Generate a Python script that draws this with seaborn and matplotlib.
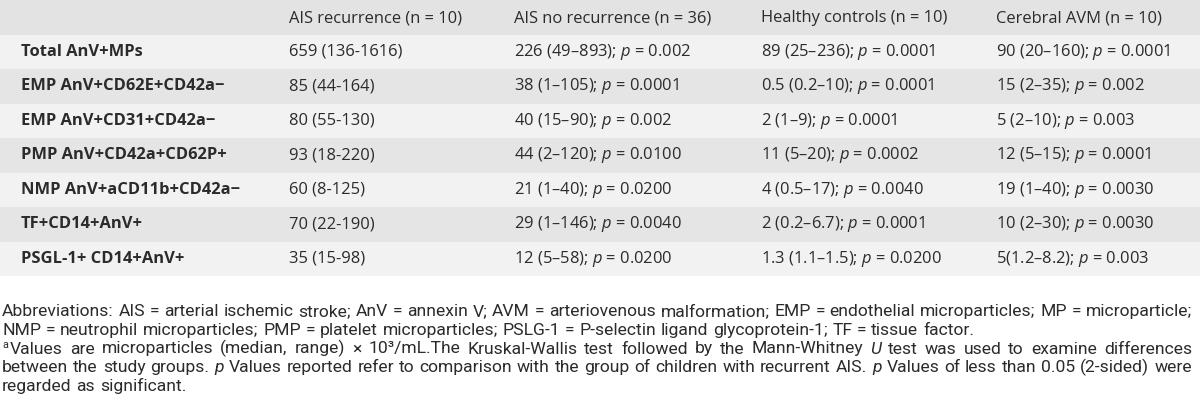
import numpy as np
import pandas as pd
import seaborn as sns
import matplotlib
matplotlib.use('Agg')
import matplotlib.pyplot as plt
from matplotlib.colors import ListedColormap

# table content
group_labels = ["AIS recurrence (n = 10)", "AIS no recurrence (n = 36)",
                "Healthy controls (n = 10)", "Cerebral AVM (n = 10)"]
marker_labels = ["Total AnV+MPs", "EMP AnV+CD62E+CD42a\u2212", "EMP AnV+CD31+CD42a\u2212",
                 "PMP AnV+CD42a+CD62P+", "NMP AnV+aCD11b+CD42a\u2212", "TF+CD14+AnV+",
                 "PSGL-1+ CD14+AnV+"]
ais_recurrence = ["659 (136-1616)", "85 (44-164)", "80 (55-130)", "93 (18-220)",
                  "60 (8-125)", "70 (22-190)", "35 (15-98)"]
ais_no_recurrence = ["226 (49\u2013893)", "38 (1\u2013105)", "40 (15\u201390)", "44 (2\u2013120)",
                     "21 (1\u201340)", "29 (1\u2013146)", "12 (5\u201358)"]
p_no_recurrence = ["0.002", "0.0001", "0.002", "0.0100", "0.0200", "0.0040", "0.0200"]
healthy_controls = ["89 (25\u2013236)", "0.5 (0.2\u201310)", "2 (1\u20139)", "11 (5\u201320)",
                    "4 (0.5\u201317)", "2 (0.2\u20136.7)", "1.3 (1.1\u20131.5)"]
p_healthy = ["0.0001", "0.0001", "0.0001", "0.0002", "0.0040", "0.0001", "0.0200"]
cerebral_avm = ["90 (20\u2013160)", "15 (2\u201335)", "5 (2\u201310)", "12 (5\u201315)",
                "19 (1\u201340)", "10 (2\u201330)", "5(1.2\u20138.2)"]
p_avm = ["0.0001", "0.002", "0.003", "0.0001", "0.0030", "0.0030", "0.003"]

# footnote lines (_x_ = italic word), True = justified
footnote = [
    ("Abbreviations: AIS = arterial ischemic stroke; AnV = annexin V; AVM = arteriovenous malformation; "
     "EMP = endothelial microparticles; MP = microparticle;", True),
    ("NMP = neutrophil microparticles; PMP = platelet microparticles; PSLG-1 = P-selectin ligand "
     "glycoprotein-1; TF = tissue factor.", False),
    ("Values are microparticles (median, range) \u00d7 10\u00b3/mL.The Kruskal-Wallis test followed by the "
     "Mann-Whitney _U_ test was used to examine differences", True),
    ("between the study groups. _p_ Values reported refer to comparison with the group of children with "
     "recurrent AIS. _p_ Values of less than 0.05 (2-sided) were", True),
    ("regarded as significant.", False),
]

sns.set_theme(style="white")
plt.rcParams['font.family'] = ['Open Sans', 'DejaVu Sans']
plt.rcParams['mathtext.fontset'] = 'custom'
plt.rcParams['mathtext.rm'] = 'Open Sans'
plt.rcParams['mathtext.it'] = 'Open Sans:italic'

W, H = 1200, 403
table_bottom = 276
n_rows = len(marker_labels) + 1
row_h = table_bottom / n_rows
text_color = '#2b2b2b'

fig = plt.figure(figsize=(12, 4.03), dpi=100)
fig.patch.set_facecolor('white')

# row shading with a one-column heatmap
stripes = pd.DataFrame({'band': [2] + [i % 2 for i in range(len(marker_labels))]})
ax_bg = fig.add_axes([0, 1 - table_bottom / H, 1, table_bottom / H])
sns.heatmap(stripes, cmap=ListedColormap(['#f2f2f2', '#e5e5e5', '#e3e3e3']), vmin=0, vmax=2,
            cbar=False, xticklabels=False, yticklabels=False, ax=ax_bg)
ax_bg.axis('off')

ax = fig.add_axes([0, 0, 1, 1])
ax.set_xlim(0, W)
ax.set_ylim(H, 0)
ax.axis('off')

fig.canvas.draw()
renderer = fig.canvas.get_renderer()


def width_of(s, size, family=None, style='normal', weight='normal'):
    t = ax.text(0, 0, s, fontsize=size, family=family, style=style, fontweight=weight)
    w = t.get_window_extent(renderer).width
    t.remove()
    return w


col_x = [21, 289, 514, 761, 996]
# header "AIS recurrence (n = 10)" runs from x=289 to x=462 in the picture
fs = 10 * (462 - 289) / width_of(group_labels[0], 10)


def pcell(v, p):
    return f"{v}; $\\mathit{{p}}$ = {p}"

for j, g in enumerate(group_labels):
    ax.text(col_x[j + 1], row_h * 0.5 + 1, g, fontsize=fs, color=text_color, va='center')

for i, lab in enumerate(marker_labels):
    y = row_h * (i + 1.5)
    ax.text(col_x[0], y, lab, fontsize=fs, fontweight='bold', color=text_color, va='center')
    ax.text(col_x[1], y, ais_recurrence[i], fontsize=fs, color=text_color, va='center')
    ax.text(col_x[2], y, pcell(ais_no_recurrence[i], p_no_recurrence[i]), fontsize=fs,
            color=text_color, va='center')
    ax.text(col_x[3], y, pcell(healthy_controls[i], p_healthy[i]), fontsize=fs,
            color=text_color, va='center')
    ax.text(col_x[4], y, pcell(cerebral_avm[i], p_avm[i]), fontsize=fs,
            color=text_color, va='center')

# footnote, justified word by word
left, right = 2, 1192
fn_family = ['Roboto', 'DejaVu Sans']
line_base = [316, 334.75, 353.5, 372.25, 391]

# first line of the footnote nearly fills the width with ordinary spacing
fn_fs = 10 * 1182 / width_of(footnote[0][0].replace('_', ''), 10, fn_family)

for k, (line, justify) in enumerate(footnote):
    y = line_base[k]
    x0 = left
    if k == 2:
        ax.text(left, y - 5, 'a', fontsize=fn_fs * 0.62, family=fn_family, color=text_color,
                va='baseline')
        x0 = left + 8
    words = line.split(' ')
    texts = []
    widths = []
    for w in words:
        style = 'normal'
        if w.startswith('_') and w.endswith('_'):
            w = w[1:-1]
            style = 'italic'
        widths.append(width_of(w, fn_fs, fn_family, style))
        texts.append(ax.text(x0, y, w, fontsize=fn_fs, family=fn_family, style=style,
                             color=text_color, va='baseline'))
    if justify:
        gap = (right - x0 - sum(widths)) / (len(words) - 1)
    else:
        gap = width_of('a b', fn_fs, fn_family) - 2 * width_of('a', fn_fs, fn_family)
    x = x0
    for t, w in zip(texts, widths):
        t.set_x(x)
        x += w + gap

fig.savefig('out.png', dpi=100, facecolor='white')
